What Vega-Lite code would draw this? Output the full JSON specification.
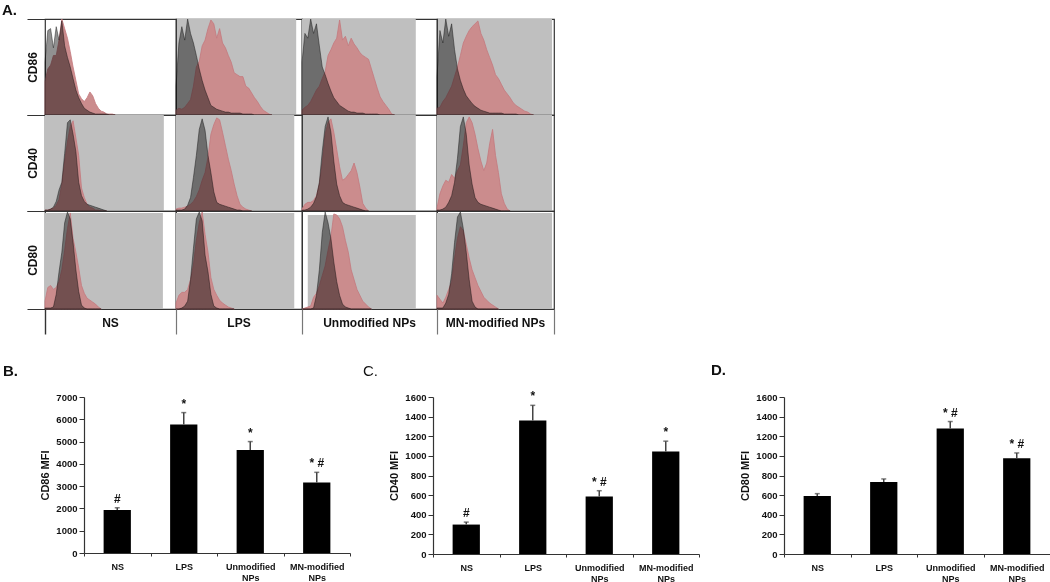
{"$schema":"https://vega.github.io/schema/vega-lite/v6.json","background":"white","padding":{"left":1,"top":2,"right":0,"bottom":0},
"config":{"font":"Liberation Sans","view":{"stroke":"#333","strokeWidth":1.2}},
"datasets":{
"CD86_NS":[{"x":0,"control":55,"treated":35},{"x":3,"control":88,"treated":48},{"x":6,"control":90,"treated":52},{"x":9,"control":70,"treated":62},{"x":12,"control":92,"treated":62},{"x":15,"control":78,"treated":78},{"x":18,"control":98,"treated":100},{"x":21,"control":72,"treated":90},{"x":24,"control":60,"treated":80},{"x":27,"control":50,"treated":66},{"x":30,"control":38,"treated":50},{"x":33,"control":26,"treated":36},{"x":36,"control":18,"treated":22},{"x":39,"control":12,"treated":17},{"x":42,"control":7,"treated":14},{"x":45,"control":5,"treated":18},{"x":48,"control":3,"treated":24},{"x":51,"control":2,"treated":20},{"x":54,"control":1,"treated":12},{"x":57,"control":1,"treated":7},{"x":60,"control":1,"treated":4},{"x":63,"control":1,"treated":3},{"x":66,"control":1,"treated":1},{"x":69,"control":0,"treated":1},{"x":72,"control":0,"treated":1},{"x":75,"control":0,"treated":0}],
"CD86_LPS":[{"x":0,"control":30,"treated":5},{"x":3,"control":75,"treated":7},{"x":6,"control":92,"treated":6},{"x":9,"control":78,"treated":8},{"x":12,"control":100,"treated":12},{"x":15,"control":85,"treated":16},{"x":18,"control":75,"treated":30},{"x":21,"control":62,"treated":50},{"x":24,"control":48,"treated":56},{"x":27,"control":36,"treated":72},{"x":30,"control":26,"treated":78},{"x":33,"control":18,"treated":90},{"x":36,"control":10,"treated":99},{"x":39,"control":8,"treated":95},{"x":42,"control":6,"treated":80},{"x":45,"control":5,"treated":90},{"x":48,"control":4,"treated":75},{"x":51,"control":3,"treated":70},{"x":54,"control":3,"treated":62},{"x":57,"control":2,"treated":55},{"x":60,"control":2,"treated":44},{"x":63,"control":2,"treated":42},{"x":66,"control":2,"treated":40},{"x":69,"control":1,"treated":40},{"x":72,"control":1,"treated":30},{"x":75,"control":1,"treated":28},{"x":78,"control":1,"treated":23},{"x":81,"control":0,"treated":18},{"x":84,"control":0,"treated":14},{"x":87,"control":0,"treated":9},{"x":90,"control":0,"treated":5},{"x":93,"control":0,"treated":3},{"x":96,"control":0,"treated":1},{"x":99,"control":0,"treated":0}],
"CD86_UN":[{"x":0,"control":55,"treated":5},{"x":3,"control":85,"treated":8},{"x":6,"control":80,"treated":10},{"x":9,"control":100,"treated":14},{"x":12,"control":85,"treated":20},{"x":15,"control":95,"treated":26},{"x":18,"control":72,"treated":30},{"x":21,"control":50,"treated":38},{"x":24,"control":42,"treated":45},{"x":27,"control":33,"treated":62},{"x":30,"control":25,"treated":68},{"x":33,"control":18,"treated":75},{"x":36,"control":14,"treated":80},{"x":39,"control":10,"treated":99},{"x":42,"control":8,"treated":78},{"x":45,"control":6,"treated":82},{"x":48,"control":4,"treated":72},{"x":51,"control":3,"treated":80},{"x":54,"control":3,"treated":74},{"x":57,"control":2,"treated":70},{"x":60,"control":2,"treated":65},{"x":63,"control":2,"treated":62},{"x":66,"control":1,"treated":60},{"x":69,"control":1,"treated":58},{"x":72,"control":1,"treated":48},{"x":75,"control":1,"treated":38},{"x":78,"control":1,"treated":28},{"x":81,"control":0,"treated":19},{"x":84,"control":0,"treated":14},{"x":87,"control":0,"treated":10},{"x":90,"control":0,"treated":6},{"x":93,"control":0,"treated":1},{"x":96,"control":0,"treated":0}],
"CD86_MN":[{"x":0,"control":40,"treated":7},{"x":3,"control":88,"treated":8},{"x":6,"control":75,"treated":14},{"x":9,"control":100,"treated":18},{"x":12,"control":82,"treated":24},{"x":15,"control":95,"treated":30},{"x":18,"control":68,"treated":40},{"x":21,"control":48,"treated":50},{"x":24,"control":36,"treated":62},{"x":27,"control":27,"treated":75},{"x":30,"control":20,"treated":82},{"x":33,"control":16,"treated":88},{"x":36,"control":12,"treated":92},{"x":39,"control":9,"treated":95},{"x":42,"control":7,"treated":98},{"x":45,"control":5,"treated":85},{"x":48,"control":4,"treated":78},{"x":51,"control":3,"treated":68},{"x":54,"control":2,"treated":60},{"x":57,"control":2,"treated":52},{"x":60,"control":2,"treated":42},{"x":63,"control":2,"treated":38},{"x":66,"control":2,"treated":32},{"x":69,"control":1,"treated":26},{"x":72,"control":1,"treated":22},{"x":75,"control":1,"treated":18},{"x":78,"control":1,"treated":13},{"x":81,"control":1,"treated":10},{"x":84,"control":0,"treated":8},{"x":87,"control":0,"treated":6},{"x":90,"control":0,"treated":4},{"x":93,"control":0,"treated":3},{"x":96,"control":0,"treated":1},{"x":99,"control":0,"treated":0}],
"CD40_NS":[{"x":0,"control":1,"treated":1},{"x":3,"control":1,"treated":1},{"x":6,"control":2,"treated":2},{"x":9,"control":4,"treated":3},{"x":12,"control":10,"treated":6},{"x":15,"control":22,"treated":12},{"x":18,"control":30,"treated":28},{"x":21,"control":60,"treated":52},{"x":24,"control":92,"treated":72},{"x":27,"control":95,"treated":88},{"x":30,"control":80,"treated":94},{"x":33,"control":62,"treated":76},{"x":36,"control":30,"treated":58},{"x":39,"control":16,"treated":24},{"x":42,"control":10,"treated":14},{"x":45,"control":7,"treated":7},{"x":48,"control":6,"treated":4},{"x":51,"control":5,"treated":3},{"x":54,"control":4,"treated":1},{"x":57,"control":3,"treated":1},{"x":60,"control":2,"treated":0},{"x":63,"control":1,"treated":0},{"x":66,"control":0,"treated":0}],
"CD40_LPS":[{"x":0,"control":1,"treated":2},{"x":3,"control":1,"treated":3},{"x":6,"control":1,"treated":3},{"x":9,"control":2,"treated":4},{"x":12,"control":6,"treated":5},{"x":15,"control":14,"treated":7},{"x":18,"control":35,"treated":10},{"x":21,"control":58,"treated":15},{"x":24,"control":85,"treated":22},{"x":27,"control":96,"treated":32},{"x":30,"control":84,"treated":40},{"x":33,"control":58,"treated":56},{"x":36,"control":40,"treated":80},{"x":39,"control":20,"treated":90},{"x":42,"control":9,"treated":97},{"x":45,"control":7,"treated":95},{"x":48,"control":6,"treated":82},{"x":51,"control":5,"treated":68},{"x":54,"control":4,"treated":54},{"x":57,"control":3,"treated":42},{"x":60,"control":2,"treated":28},{"x":63,"control":1,"treated":16},{"x":66,"control":1,"treated":7},{"x":69,"control":0,"treated":4},{"x":72,"control":0,"treated":2},{"x":75,"control":0,"treated":1},{"x":78,"control":0,"treated":0}],
"CD40_UN":[{"x":0,"control":1,"treated":2},{"x":3,"control":1,"treated":7},{"x":6,"control":2,"treated":9},{"x":9,"control":4,"treated":9},{"x":12,"control":8,"treated":11},{"x":15,"control":15,"treated":16},{"x":18,"control":30,"treated":28},{"x":21,"control":62,"treated":50},{"x":24,"control":88,"treated":80},{"x":27,"control":98,"treated":92},{"x":30,"control":82,"treated":96},{"x":33,"control":52,"treated":82},{"x":36,"control":28,"treated":64},{"x":39,"control":16,"treated":46},{"x":42,"control":9,"treated":32},{"x":45,"control":7,"treated":34},{"x":48,"control":6,"treated":38},{"x":51,"control":5,"treated":42},{"x":54,"control":4,"treated":50},{"x":57,"control":3,"treated":40},{"x":60,"control":2,"treated":25},{"x":63,"control":1,"treated":8},{"x":66,"control":0,"treated":3},{"x":69,"control":0,"treated":0}],
"CD40_MN":[{"x":0,"control":1,"treated":3},{"x":3,"control":1,"treated":18},{"x":6,"control":2,"treated":26},{"x":9,"control":4,"treated":32},{"x":12,"control":9,"treated":30},{"x":15,"control":16,"treated":38},{"x":18,"control":30,"treated":34},{"x":21,"control":55,"treated":42},{"x":24,"control":88,"treated":48},{"x":27,"control":98,"treated":68},{"x":30,"control":80,"treated":92},{"x":33,"control":48,"treated":98},{"x":36,"control":28,"treated":92},{"x":39,"control":14,"treated":80},{"x":42,"control":9,"treated":65},{"x":45,"control":7,"treated":52},{"x":48,"control":6,"treated":42},{"x":51,"control":5,"treated":50},{"x":54,"control":4,"treated":70},{"x":57,"control":3,"treated":85},{"x":60,"control":2,"treated":58},{"x":63,"control":1,"treated":40},{"x":66,"control":0,"treated":18},{"x":69,"control":0,"treated":8},{"x":72,"control":0,"treated":2},{"x":75,"control":0,"treated":0}],
"CD80_NS":[{"x":0,"control":1,"treated":8},{"x":3,"control":1,"treated":22},{"x":6,"control":1,"treated":24},{"x":9,"control":2,"treated":20},{"x":12,"control":15,"treated":22},{"x":15,"control":38,"treated":28},{"x":18,"control":58,"treated":40},{"x":21,"control":88,"treated":60},{"x":24,"control":99,"treated":82},{"x":27,"control":92,"treated":98},{"x":30,"control":68,"treated":72},{"x":33,"control":40,"treated":58},{"x":36,"control":18,"treated":42},{"x":39,"control":4,"treated":24},{"x":42,"control":1,"treated":16},{"x":45,"control":0,"treated":11},{"x":48,"control":0,"treated":9},{"x":51,"control":0,"treated":7},{"x":54,"control":0,"treated":5},{"x":57,"control":0,"treated":2},{"x":60,"control":0,"treated":0}],
"CD80_LPS":[{"x":0,"control":0,"treated":6},{"x":3,"control":0,"treated":14},{"x":6,"control":1,"treated":17},{"x":9,"control":3,"treated":17},{"x":12,"control":8,"treated":20},{"x":15,"control":30,"treated":30},{"x":18,"control":62,"treated":45},{"x":21,"control":92,"treated":70},{"x":24,"control":99,"treated":88},{"x":27,"control":90,"treated":99},{"x":30,"control":55,"treated":76},{"x":33,"control":38,"treated":58},{"x":36,"control":15,"treated":32},{"x":39,"control":3,"treated":20},{"x":42,"control":1,"treated":14},{"x":45,"control":0,"treated":9},{"x":48,"control":0,"treated":6},{"x":51,"control":0,"treated":4},{"x":54,"control":0,"treated":2},{"x":57,"control":0,"treated":1},{"x":60,"control":0,"treated":0}],
"CD80_UN":[{"x":0,"control":0,"treated":0},{"x":3,"control":0,"treated":1},{"x":6,"control":0,"treated":2},{"x":9,"control":0,"treated":3},{"x":12,"control":1,"treated":12},{"x":15,"control":14,"treated":16},{"x":18,"control":40,"treated":24},{"x":21,"control":78,"treated":34},{"x":24,"control":99,"treated":44},{"x":27,"control":88,"treated":60},{"x":30,"control":72,"treated":74},{"x":33,"control":48,"treated":97},{"x":36,"control":28,"treated":96},{"x":39,"control":14,"treated":92},{"x":42,"control":5,"treated":84},{"x":45,"control":2,"treated":70},{"x":48,"control":1,"treated":58},{"x":51,"control":0,"treated":40},{"x":54,"control":0,"treated":30},{"x":57,"control":0,"treated":20},{"x":60,"control":0,"treated":14},{"x":63,"control":0,"treated":8},{"x":66,"control":0,"treated":5},{"x":69,"control":0,"treated":2},{"x":72,"control":0,"treated":0}],
"CD80_MN":[{"x":0,"control":1,"treated":14},{"x":3,"control":1,"treated":10},{"x":6,"control":1,"treated":6},{"x":9,"control":6,"treated":12},{"x":12,"control":15,"treated":20},{"x":15,"control":36,"treated":28},{"x":18,"control":68,"treated":52},{"x":21,"control":94,"treated":72},{"x":24,"control":99,"treated":84},{"x":27,"control":82,"treated":80},{"x":30,"control":58,"treated":66},{"x":33,"control":30,"treated":52},{"x":36,"control":8,"treated":40},{"x":39,"control":2,"treated":32},{"x":42,"control":0,"treated":24},{"x":45,"control":0,"treated":18},{"x":48,"control":0,"treated":12},{"x":51,"control":0,"treated":9},{"x":54,"control":0,"treated":6},{"x":57,"control":0,"treated":4},{"x":60,"control":0,"treated":2},{"x":63,"control":0,"treated":0}]
},
"vconcat":[
{"columns":4,"spacing":0,"bounds":"flush","align":"each","concat":[
{"width":131,"height":96,"resolve":{"axis":{"y":"independent"}},"title":{"text":"A.","anchor":"start","frame":"group","dx":-43,"offset":6,"dy":7,"fontSize":15,"fontWeight":"bold","color":"#111"},"layer":[
{"data":{"name":"CD86_NS"},"mark":{"type":"area","fill":"#cb8c8d","stroke":"#c4797d","strokeWidth":0.8},"encoding":{"x":{"field":"x","type":"quantitative","axis":null,"scale":{"domain":[0,131]}},"y":{"field":"treated","type":"quantitative","scale":{"domain":[0,100]},"axis":{"values":[0,100],"grid":false,"domain":false,"labels":false,"tickSize":18,"tickColor":"#333","title":"CD86","titleX":-6,"titleFontSize":12,"titleFontWeight":"bold","titleColor":"#111"}}}},
{"data":{"name":"CD86_NS"},"mark":{"type":"area","fill":"#919191","blend":"multiply","stroke":"#222","strokeOpacity":0.7,"strokeWidth":0.7},"encoding":{"x":{"field":"x","type":"quantitative","axis":null},"y":{"field":"control","type":"quantitative","axis":null}}}]},
{"width":126,"height":96,"layer":[
{"data":{"values":[{"x":1,"x_end":124,"y_top":100}]},"mark":{"type":"rect","fill":"#bfbfbf"},"encoding":{"x":{"field":"x","type":"quantitative","axis":null,"scale":{"domain":[0,126]}},"x2":{"field":"x_end"},"y":{"field":"y_top","type":"quantitative","axis":null,"scale":{"domain":[0,100]}},"y2":{"datum":0}}},
{"data":{"name":"CD86_LPS"},"mark":{"type":"area","fill":"#cb8c8d","stroke":"#c4797d","strokeWidth":0.8},"encoding":{"x":{"field":"x","type":"quantitative","axis":null},"y":{"field":"treated","type":"quantitative","axis":null}}},
{"data":{"name":"CD86_LPS"},"mark":{"type":"area","fill":"#919191","blend":"multiply","stroke":"#222","strokeOpacity":0.7,"strokeWidth":0.7},"encoding":{"x":{"field":"x","type":"quantitative","axis":null},"y":{"field":"control","type":"quantitative","axis":null}}}]},
{"width":135,"height":96,"layer":[
{"data":{"values":[{"x":0,"x_end":118,"y_top":100}]},"mark":{"type":"rect","fill":"#bfbfbf"},"encoding":{"x":{"field":"x","type":"quantitative","axis":null,"scale":{"domain":[0,135]}},"x2":{"field":"x_end"},"y":{"field":"y_top","type":"quantitative","axis":null,"scale":{"domain":[0,100]}},"y2":{"datum":0}}},
{"data":{"name":"CD86_UN"},"mark":{"type":"area","fill":"#cb8c8d","stroke":"#c4797d","strokeWidth":0.8},"encoding":{"x":{"field":"x","type":"quantitative","axis":null},"y":{"field":"treated","type":"quantitative","axis":null}}},
{"data":{"name":"CD86_UN"},"mark":{"type":"area","fill":"#919191","blend":"multiply","stroke":"#222","strokeOpacity":0.7,"strokeWidth":0.7},"encoding":{"x":{"field":"x","type":"quantitative","axis":null},"y":{"field":"control","type":"quantitative","axis":null}}}]},
{"width":117,"height":96,"layer":[
{"data":{"values":[{"x":1,"x_end":118,"y_top":100}]},"mark":{"type":"rect","fill":"#bfbfbf"},"encoding":{"x":{"field":"x","type":"quantitative","axis":null,"scale":{"domain":[0,117]}},"x2":{"field":"x_end"},"y":{"field":"y_top","type":"quantitative","axis":null,"scale":{"domain":[0,100]}},"y2":{"datum":0}}},
{"data":{"name":"CD86_MN"},"mark":{"type":"area","fill":"#cb8c8d","stroke":"#c4797d","strokeWidth":0.8},"encoding":{"x":{"field":"x","type":"quantitative","axis":null},"y":{"field":"treated","type":"quantitative","axis":null}}},
{"data":{"name":"CD86_MN"},"mark":{"type":"area","fill":"#919191","blend":"multiply","stroke":"#222","strokeOpacity":0.7,"strokeWidth":0.7},"encoding":{"x":{"field":"x","type":"quantitative","axis":null},"y":{"field":"control","type":"quantitative","axis":null}}}]},
{"width":131,"height":96,"resolve":{"axis":{"y":"independent"}},"layer":[
{"data":{"values":[{"x":0,"x_end":127,"y_top":100}]},"mark":{"type":"rect","fill":"#bfbfbf"},"encoding":{"x":{"field":"x","type":"quantitative","axis":null,"scale":{"domain":[0,131]}},"x2":{"field":"x_end"},"y":{"field":"y_top","type":"quantitative","scale":{"domain":[0,100]},"axis":{"values":[0,100],"grid":false,"domain":false,"labels":false,"tickSize":18,"tickColor":"#333","title":"CD40","titleX":-6,"titleFontSize":12,"titleFontWeight":"bold","titleColor":"#111"}},"y2":{"datum":0}}},
{"data":{"name":"CD40_NS"},"mark":{"type":"area","fill":"#cb8c8d","stroke":"#c4797d","strokeWidth":0.8},"encoding":{"x":{"field":"x","type":"quantitative","axis":null},"y":{"field":"treated","type":"quantitative","axis":null}}},
{"data":{"name":"CD40_NS"},"mark":{"type":"area","fill":"#919191","blend":"multiply","stroke":"#222","strokeOpacity":0.7,"strokeWidth":0.7},"encoding":{"x":{"field":"x","type":"quantitative","axis":null},"y":{"field":"control","type":"quantitative","axis":null}}}]},
{"width":126,"height":96,"layer":[
{"data":{"values":[{"x":0,"x_end":122,"y_top":100}]},"mark":{"type":"rect","fill":"#bfbfbf"},"encoding":{"x":{"field":"x","type":"quantitative","axis":null,"scale":{"domain":[0,126]}},"x2":{"field":"x_end"},"y":{"field":"y_top","type":"quantitative","axis":null,"scale":{"domain":[0,100]}},"y2":{"datum":0}}},
{"data":{"name":"CD40_LPS"},"mark":{"type":"area","fill":"#cb8c8d","stroke":"#c4797d","strokeWidth":0.8},"encoding":{"x":{"field":"x","type":"quantitative","axis":null},"y":{"field":"treated","type":"quantitative","axis":null}}},
{"data":{"name":"CD40_LPS"},"mark":{"type":"area","fill":"#919191","blend":"multiply","stroke":"#222","strokeOpacity":0.7,"strokeWidth":0.7},"encoding":{"x":{"field":"x","type":"quantitative","axis":null},"y":{"field":"control","type":"quantitative","axis":null}}}]},
{"width":135,"height":96,"layer":[
{"data":{"values":[{"x":1,"x_end":118,"y_top":100}]},"mark":{"type":"rect","fill":"#bfbfbf"},"encoding":{"x":{"field":"x","type":"quantitative","axis":null,"scale":{"domain":[0,135]}},"x2":{"field":"x_end"},"y":{"field":"y_top","type":"quantitative","axis":null,"scale":{"domain":[0,100]}},"y2":{"datum":0}}},
{"data":{"name":"CD40_UN"},"mark":{"type":"area","fill":"#cb8c8d","stroke":"#c4797d","strokeWidth":0.8},"encoding":{"x":{"field":"x","type":"quantitative","axis":null},"y":{"field":"treated","type":"quantitative","axis":null}}},
{"data":{"name":"CD40_UN"},"mark":{"type":"area","fill":"#919191","blend":"multiply","stroke":"#222","strokeOpacity":0.7,"strokeWidth":0.7},"encoding":{"x":{"field":"x","type":"quantitative","axis":null},"y":{"field":"control","type":"quantitative","axis":null}}}]},
{"width":117,"height":96,"layer":[
{"data":{"values":[{"x":0,"x_end":118,"y_top":100}]},"mark":{"type":"rect","fill":"#bfbfbf"},"encoding":{"x":{"field":"x","type":"quantitative","axis":null,"scale":{"domain":[0,117]}},"x2":{"field":"x_end"},"y":{"field":"y_top","type":"quantitative","axis":null,"scale":{"domain":[0,100]}},"y2":{"datum":0}}},
{"data":{"name":"CD40_MN"},"mark":{"type":"area","fill":"#cb8c8d","stroke":"#c4797d","strokeWidth":0.8},"encoding":{"x":{"field":"x","type":"quantitative","axis":null},"y":{"field":"treated","type":"quantitative","axis":null}}},
{"data":{"name":"CD40_MN"},"mark":{"type":"area","fill":"#919191","blend":"multiply","stroke":"#222","strokeOpacity":0.7,"strokeWidth":0.7},"encoding":{"x":{"field":"x","type":"quantitative","axis":null},"y":{"field":"control","type":"quantitative","axis":null}}}]},
{"width":131,"height":98,"resolve":{"axis":{"y":"independent"}},"layer":[
{"data":{"values":[{"x":0,"x_end":126,"y_top":98}]},"mark":{"type":"rect","fill":"#bfbfbf"},"encoding":{"x":{"field":"x","type":"quantitative","axis":null,"scale":{"domain":[0,131]}},"x2":{"field":"x_end"},"y":{"field":"y_top","type":"quantitative","scale":{"domain":[0,100]},"axis":{"values":[0,100],"grid":false,"domain":false,"labels":false,"tickSize":18,"tickColor":"#333","title":"CD80","titleX":-6,"titleFontSize":12,"titleFontWeight":"bold","titleColor":"#111"}},"y2":{"datum":0}}},
{"data":{"name":"CD80_NS"},"mark":{"type":"area","fill":"#cb8c8d","stroke":"#c4797d","strokeWidth":0.8},"encoding":{"x":{"field":"x","type":"quantitative","axis":null},"y":{"field":"treated","type":"quantitative","axis":null}}},
{"data":{"name":"CD80_NS"},"mark":{"type":"area","fill":"#919191","blend":"multiply","stroke":"#222","strokeOpacity":0.7,"strokeWidth":0.7},"encoding":{"x":{"field":"x","type":"quantitative","axis":null},"y":{"field":"control","type":"quantitative","axis":null}}}]},
{"width":126,"height":98,"layer":[
{"data":{"values":[{"x":0,"x_end":122,"y_top":98}]},"mark":{"type":"rect","fill":"#bfbfbf"},"encoding":{"x":{"field":"x","type":"quantitative","axis":null,"scale":{"domain":[0,126]}},"x2":{"field":"x_end"},"y":{"field":"y_top","type":"quantitative","axis":null,"scale":{"domain":[0,100]}},"y2":{"datum":0}}},
{"data":{"name":"CD80_LPS"},"mark":{"type":"area","fill":"#cb8c8d","stroke":"#c4797d","strokeWidth":0.8},"encoding":{"x":{"field":"x","type":"quantitative","axis":null},"y":{"field":"treated","type":"quantitative","axis":null}}},
{"data":{"name":"CD80_LPS"},"mark":{"type":"area","fill":"#919191","blend":"multiply","stroke":"#222","strokeOpacity":0.7,"strokeWidth":0.7},"encoding":{"x":{"field":"x","type":"quantitative","axis":null},"y":{"field":"control","type":"quantitative","axis":null}}}]},
{"width":135,"height":98,"layer":[
{"data":{"values":[{"x":6,"x_end":118,"y_top":96}]},"mark":{"type":"rect","fill":"#bfbfbf"},"encoding":{"x":{"field":"x","type":"quantitative","axis":null,"scale":{"domain":[0,135]}},"x2":{"field":"x_end"},"y":{"field":"y_top","type":"quantitative","axis":null,"scale":{"domain":[0,100]}},"y2":{"datum":0}}},
{"data":{"name":"CD80_UN"},"mark":{"type":"area","fill":"#cb8c8d","stroke":"#c4797d","strokeWidth":0.8},"encoding":{"x":{"field":"x","type":"quantitative","axis":null},"y":{"field":"treated","type":"quantitative","axis":null}}},
{"data":{"name":"CD80_UN"},"mark":{"type":"area","fill":"#919191","blend":"multiply","stroke":"#222","strokeOpacity":0.7,"strokeWidth":0.7},"encoding":{"x":{"field":"x","type":"quantitative","axis":null},"y":{"field":"control","type":"quantitative","axis":null}}}]},
{"width":117,"height":98,"layer":[
{"data":{"values":[{"x":0,"x_end":118,"y_top":98}]},"mark":{"type":"rect","fill":"#bfbfbf"},"encoding":{"x":{"field":"x","type":"quantitative","axis":null,"scale":{"domain":[0,117]}},"x2":{"field":"x_end"},"y":{"field":"y_top","type":"quantitative","axis":null,"scale":{"domain":[0,100]}},"y2":{"datum":0}}},
{"data":{"name":"CD80_MN"},"mark":{"type":"area","fill":"#cb8c8d","stroke":"#c4797d","strokeWidth":0.8},"encoding":{"x":{"field":"x","type":"quantitative","axis":null},"y":{"field":"treated","type":"quantitative","axis":null}}},
{"data":{"name":"CD80_MN"},"mark":{"type":"area","fill":"#919191","blend":"multiply","stroke":"#222","strokeOpacity":0.7,"strokeWidth":0.7},"encoding":{"x":{"field":"x","type":"quantitative","axis":null},"y":{"field":"control","type":"quantitative","axis":null}}}]},
{"width":131,"height":25,"view":{"stroke":null},"data":{"values":[{"condition":"NS","pos":0.45}]},"mark":{"type":"text","fontSize":12,"fontWeight":"bold","color":"#111"},"encoding":{"text":{"field":"condition"},"x":{"field":"condition","type":"nominal","axis":null,"scale":{"paddingInner":0,"paddingOuter":0}},"y":{"field":"pos","type":"quantitative","scale":{"domain":[0,1]},"axis":{"grid":false,"ticks":false,"labels":false,"title":null,"domainColor":"#333","domainWidth":1.4}}}},
{"width":126,"height":25,"view":{"stroke":null},"data":{"values":[{"condition":"LPS","pos":0.45}]},"mark":{"type":"text","fontSize":12,"fontWeight":"bold","color":"#111"},"encoding":{"text":{"field":"condition"},"x":{"field":"condition","type":"nominal","axis":null,"scale":{"paddingInner":0,"paddingOuter":0}},"y":{"field":"pos","type":"quantitative","scale":{"domain":[0,1]},"axis":{"grid":false,"ticks":false,"labels":false,"title":null,"domainColor":"#777","domainWidth":1.2}}}},
{"width":135,"height":25,"view":{"stroke":null},"data":{"values":[{"condition":"Unmodified NPs","pos":0.45}]},"mark":{"type":"text","fontSize":12,"fontWeight":"bold","color":"#111"},"encoding":{"text":{"field":"condition"},"x":{"field":"condition","type":"nominal","axis":null,"scale":{"paddingInner":0,"paddingOuter":0}},"y":{"field":"pos","type":"quantitative","scale":{"domain":[0,1]},"axis":{"grid":false,"ticks":false,"labels":false,"title":null,"domainColor":"#777","domainWidth":1.2}}}},
{"width":117,"height":25,"view":{"stroke":null},"data":{"values":[{"condition":"MN-modified NPs","pos":0.45}]},"resolve":{"axis":{"y":"independent"}},"layer":[
{"mark":{"type":"text","fontSize":12,"fontWeight":"bold","color":"#111"},"encoding":{"text":{"field":"condition"},"x":{"field":"condition","type":"nominal","axis":null,"scale":{"paddingInner":0,"paddingOuter":0}},"y":{"field":"pos","type":"quantitative","scale":{"domain":[0,1]},"axis":{"grid":false,"ticks":false,"labels":false,"title":null,"domainColor":"#777","domainWidth":1.2}}}},
{"mark":{"type":"text","opacity":0},"encoding":{"x":{"field":"condition","type":"nominal","axis":null},"y":{"field":"pos","type":"quantitative","axis":{"orient":"right","grid":false,"ticks":false,"labels":false,"title":null,"domainColor":"#777","domainWidth":1.2}}}}]}
]},
{"hconcat":[
{"width":39,"height":1,"view":{"stroke":null},"data":{"values":[{"blank":1}]},"mark":{"type":"text"},"encoding":{}},
{"width":266,"height":156,"resolve":{"axis":{"y":"independent"}},"title":{"text":"B.","anchor":"start","frame":"group","dx":-81,"offset":22,"dy":9,"fontSize":15,"fontWeight":"bold","color":"#111"},"data":{"values":[{"group":"NS","mfi":1930,"upper":2030,"sig":"#"},{"group":"LPS","mfi":5770,"upper":6300,"sig":"*"},{"group":"Unmodified NPs","mfi":4620,"upper":5000,"sig":"*"},{"group":"MN-modified NPs","mfi":3160,"upper":3620,"sig":"* #"}]},"view":{"stroke":null},"encoding":{"x":{"field":"group","type":"nominal","sort":null,"scale":{"paddingInner":0,"paddingOuter":0},"axis":{"title":null,"labelAngle":0,"labelFontSize":9,"labelFontWeight":"bold","labelColor":"#111","labelPadding":6,"labelLineHeight":11,"labelExpr":"datum.label=='NS'||datum.label=='LPS'?datum.label:split(datum.label,' ')","tickBand":"extent","tickSize":3,"tickColor":"#333","domainColor":"#333","domainWidth":1.2}}},"layer":[
{"mark":{"type":"bar","width":{"band":0.41},"color":"#000"},"encoding":{"y":{"field":"mfi","type":"quantitative","scale":{"domain":[0,7000]},"axis":{"values":[0,1000,2000,3000,4000,5000,6000,7000],"format":"d","grid":false,"title":"CD86 MFI","titleFontSize":11,"titleFontWeight":"bold","titleColor":"#111","titlePadding":5,"labelFontSize":9.5,"labelFontWeight":"bold","labelColor":"#111","tickSize":5,"tickColor":"#333","domainColor":"#333","domainWidth":1.2}}}},
{"mark":{"type":"rule","color":"#444","strokeWidth":1.5},"encoding":{"y":{"field":"mfi","type":"quantitative","axis":null},"y2":{"field":"upper"}}},
{"mark":{"type":"tick","color":"#444","size":5,"thickness":1.5},"encoding":{"y":{"field":"upper","type":"quantitative","axis":null}}},
{"mark":{"type":"text","fontSize":12,"fontWeight":"bold","color":"#111","baseline":"bottom","dy":-2},"encoding":{"y":{"field":"upper","type":"quantitative","axis":null},"text":{"field":"sig"}}}]},
{"width":83,"height":1,"view":{"stroke":null},"data":{"values":[{"blank":1}]},"mark":{"type":"text"},"encoding":{}},
{"width":266,"height":157,"resolve":{"axis":{"y":"independent"}},"title":{"text":"C.","anchor":"start","frame":"group","dx":-70,"offset":22,"dy":11,"fontSize":15,"fontWeight":"normal","color":"#111"},"data":{"values":[{"group":"NS","mfi":300,"upper":325,"sig":"#"},{"group":"LPS","mfi":1360,"upper":1515,"sig":"*"},{"group":"Unmodified NPs","mfi":585,"upper":645,"sig":"* #"},{"group":"MN-modified NPs","mfi":1045,"upper":1150,"sig":"*"}]},"view":{"stroke":null},"encoding":{"x":{"field":"group","type":"nominal","sort":null,"scale":{"paddingInner":0,"paddingOuter":0},"axis":{"title":null,"labelAngle":0,"labelFontSize":9,"labelFontWeight":"bold","labelColor":"#111","labelPadding":6,"labelLineHeight":11,"labelExpr":"datum.label=='NS'||datum.label=='LPS'?datum.label:split(datum.label,' ')","tickBand":"extent","tickSize":3,"tickColor":"#333","domainColor":"#333","domainWidth":1.2}}},"layer":[
{"mark":{"type":"bar","width":{"band":0.41},"color":"#000"},"encoding":{"y":{"field":"mfi","type":"quantitative","scale":{"domain":[0,1600]},"axis":{"values":[0,200,400,600,800,1000,1200,1400,1600],"format":"d","grid":false,"title":"CD40 MFI","titleFontSize":11,"titleFontWeight":"bold","titleColor":"#111","titlePadding":5,"labelFontSize":9.5,"labelFontWeight":"bold","labelColor":"#111","tickSize":5,"tickColor":"#333","domainColor":"#333","domainWidth":1.2}}}},
{"mark":{"type":"rule","color":"#444","strokeWidth":1.5},"encoding":{"y":{"field":"mfi","type":"quantitative","axis":null},"y2":{"field":"upper"}}},
{"mark":{"type":"tick","color":"#444","size":5,"thickness":1.5},"encoding":{"y":{"field":"upper","type":"quantitative","axis":null}}},
{"mark":{"type":"text","fontSize":12,"fontWeight":"bold","color":"#111","baseline":"bottom","dy":-2},"encoding":{"y":{"field":"upper","type":"quantitative","axis":null},"text":{"field":"sig"}}}]},
{"width":85,"height":1,"view":{"stroke":null},"data":{"values":[{"blank":1}]},"mark":{"type":"text"},"encoding":{}},
{"width":266,"height":157,"resolve":{"axis":{"y":"independent"}},"title":{"text":"D.","anchor":"start","frame":"group","dx":-73,"offset":22,"dy":8,"fontSize":15,"fontWeight":"bold","color":"#111"},"data":{"values":[{"group":"NS","mfi":590,"upper":615,"sig":""},{"group":"LPS","mfi":735,"upper":765,"sig":""},{"group":"Unmodified NPs","mfi":1280,"upper":1350,"sig":"* #"},{"group":"MN-modified NPs","mfi":975,"upper":1030,"sig":"* #"}]},"view":{"stroke":null},"encoding":{"x":{"field":"group","type":"nominal","sort":null,"scale":{"paddingInner":0,"paddingOuter":0},"axis":{"title":null,"labelAngle":0,"labelFontSize":9,"labelFontWeight":"bold","labelColor":"#111","labelPadding":6,"labelLineHeight":11,"labelExpr":"datum.label=='NS'||datum.label=='LPS'?datum.label:split(datum.label,' ')","tickBand":"extent","tickSize":3,"tickColor":"#333","domainColor":"#333","domainWidth":1.2}}},"layer":[
{"mark":{"type":"bar","width":{"band":0.41},"color":"#000"},"encoding":{"y":{"field":"mfi","type":"quantitative","scale":{"domain":[0,1600]},"axis":{"values":[0,200,400,600,800,1000,1200,1400,1600],"format":"d","grid":false,"title":"CD80 MFI","titleFontSize":11,"titleFontWeight":"bold","titleColor":"#111","titlePadding":5,"labelFontSize":9.5,"labelFontWeight":"bold","labelColor":"#111","tickSize":5,"tickColor":"#333","domainColor":"#333","domainWidth":1.2}}}},
{"mark":{"type":"rule","color":"#444","strokeWidth":1.5},"encoding":{"y":{"field":"mfi","type":"quantitative","axis":null},"y2":{"field":"upper"}}},
{"mark":{"type":"tick","color":"#444","size":5,"thickness":1.5},"encoding":{"y":{"field":"upper","type":"quantitative","axis":null}}},
{"mark":{"type":"text","fontSize":12,"fontWeight":"bold","color":"#111","baseline":"bottom","dy":-2},"encoding":{"y":{"field":"upper","type":"quantitative","axis":null},"text":{"field":"sig"}}}]}
],"spacing":0,"bounds":"flush"}
],"spacing":29}
